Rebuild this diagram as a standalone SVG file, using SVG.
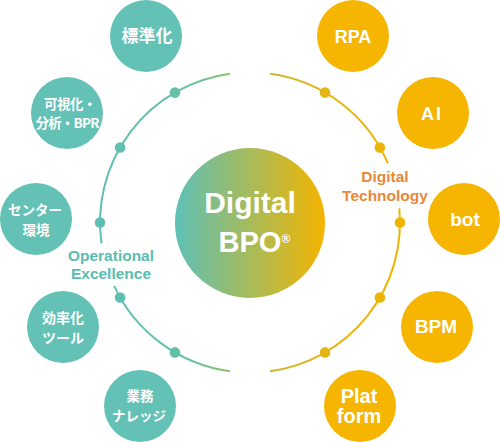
<svg xmlns="http://www.w3.org/2000/svg" width="500" height="442" viewBox="0 0 500 442">
<defs>
<linearGradient id="ringGrad" gradientUnits="userSpaceOnUse" x1="100" y1="0" x2="400" y2="0">
<stop offset="0" stop-color="#5dbfb4"/>
<stop offset="0.3" stop-color="#66c0a8"/>
<stop offset="0.43" stop-color="#8fc26c"/>
<stop offset="0.57" stop-color="#cbb935"/>
<stop offset="0.75" stop-color="#e4b515"/>
<stop offset="1" stop-color="#eeb400"/>
</linearGradient>
<linearGradient id="hubGrad" gradientUnits="userSpaceOnUse" x1="175" y1="0" x2="325" y2="0">
<stop offset="0" stop-color="#5ec0b7"/>
<stop offset="0.5" stop-color="#a7bb5b"/>
<stop offset="1" stop-color="#f5b400"/>
</linearGradient>
<style>
.ring{fill:none;stroke:url(#ringGrad);stroke-width:2;}
.dot{fill:url(#ringGrad);}
.teal{fill:#63c1b5;}
.gold{fill:#f5b500;}
.jp{font-family:"Noto Sans CJK JP","Liberation Sans",sans-serif;font-weight:bold;fill:#fff;text-anchor:middle;}
.en{font-family:"Liberation Sans","Noto Sans CJK JP",sans-serif;font-weight:bold;fill:#fff;text-anchor:middle;}
.lbl{font-family:"Liberation Sans",sans-serif;font-weight:bold;font-size:15.5px;text-anchor:middle;}
</style>
</defs>

<g id="connectors">
<path class="ring" d="M230,73.8 A150,150 0 0 0 101.5,243.4"/>
<path class="ring" d="M114.1,285.9 A150,150 0 0 0 230,371.2"/>
<path class="ring" d="M270,73.8 A150,150 0 0 1 387.9,163.4"/>
<path class="ring" d="M399.3,208.4 A150,150 0 0 1 270,371.2"/>
<circle class="dot" cx="175" cy="92.6" r="5.3"/>
<circle class="dot" cx="120.1" cy="147.5" r="5.3"/>
<circle class="dot" cx="100" cy="222.5" r="5.3"/>
<circle class="dot" cx="120.1" cy="297.5" r="5.3"/>
<circle class="dot" cx="175" cy="352.4" r="5.3"/>
<circle class="dot" cx="325" cy="92.6" r="5.3"/>
<circle class="dot" cx="379.9" cy="147.5" r="5.3"/>
<circle class="dot" cx="400" cy="222.5" r="5.3"/>
<circle class="dot" cx="379.9" cy="297.5" r="5.3"/>
<circle class="dot" cx="325" cy="352.4" r="5.3"/>
<text class="lbl" x="111" y="261" fill="#5bbcb0">Operational</text>
<text class="lbl" x="111" y="279" fill="#5bbcb0">Excellence</text>
<text class="lbl" x="385" y="182" fill="#e8883a">Digital</text>
<text class="lbl" x="385" y="201" fill="#e8883a">Technology</text>
</g>

<g id="hub">
<circle cx="250" cy="223" r="75" fill="url(#hubGrad)"/>
<text class="en" x="250" y="213" font-size="30">Digital</text>
<text class="en" x="250" y="252" font-size="29">BPO</text>
<text class="en" x="286" y="243" font-size="12">®</text>
</g>

<g id="n-hyojunka">
<circle class="teal" cx="146" cy="36" r="36"/>
<text class="jp" x="147" y="42" font-size="17">標準化</text>
</g>
<g id="n-kashika">
<circle class="teal" cx="67" cy="113" r="36"/>
<text class="jp" x="70" y="109" font-size="13.5" letter-spacing="-0.5">可視化・</text>
<text class="jp" x="67" y="128" font-size="13.5" letter-spacing="-0.8">分析・BPR</text>
</g>
<g id="n-center">
<circle class="teal" cx="36" cy="219" r="36"/>
<text class="jp" x="35" y="215" font-size="13.5">センター</text>
<text class="jp" x="36" y="235" font-size="13.5">環境</text>
</g>
<g id="n-kouritsu">
<circle class="teal" cx="63" cy="327" r="36"/>
<text class="jp" x="63" y="323" font-size="14">効率化</text>
<text class="jp" x="63" y="343" font-size="14">ツール</text>
</g>
<g id="n-gyomu">
<circle class="teal" cx="140" cy="406" r="36"/>
<text class="jp" x="140" y="401" font-size="13.5">業務</text>
<text class="jp" x="139" y="421" font-size="13.5">ナレッジ</text>
</g>

<g id="n-rpa">
<circle class="gold" cx="353" cy="36" r="36"/>
<text class="en" x="353" y="43" font-size="18">RPA</text>
</g>
<g id="n-ai">
<circle class="gold" cx="433" cy="113" r="36"/>
<text class="en" x="432" y="120" font-size="18" letter-spacing="2">AI</text>
</g>
<g id="n-bot">
<circle class="gold" cx="464" cy="219" r="36"/>
<text class="en" x="465" y="226" font-size="19">bot</text>
</g>
<g id="n-bpm">
<circle class="gold" cx="437" cy="327" r="36"/>
<text class="en" x="436" y="333" font-size="19">BPM</text>
</g>
<g id="n-platform">
<circle class="gold" cx="360" cy="406" r="36"/>
<text class="en" x="359" y="403" font-size="20">Plat</text>
<text class="en" x="359" y="423" font-size="20">form</text>
</g>
</svg>
